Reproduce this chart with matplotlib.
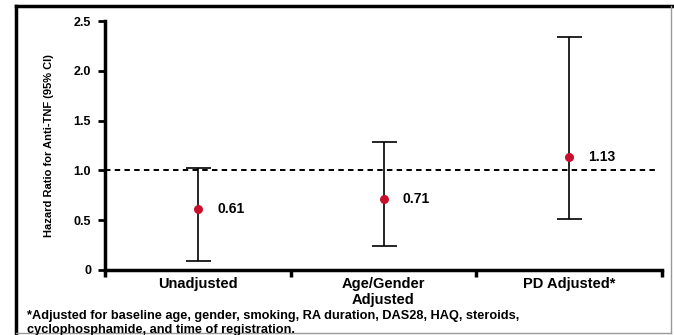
import matplotlib
matplotlib.use("Agg")
import matplotlib.pyplot as plt
from matplotlib.lines import Line2D

categories = ["Unadjusted", "Age/Gender\nAdjusted", "PD Adjusted*"]
hr = [0.61, 0.71, 1.13]
ci_low = [0.09, 0.24, 0.51]
ci_high = [1.02, 1.29, 2.34]
value_labels = ["0.61", "0.71", "1.13"]
yticks = [0, 0.5, 1.0, 1.5, 2.0, 2.5]
ytick_labels = ["0", "0.5", "1.0", "1.5", "2.0", "2.5"]
footnote = ("*Adjusted for baseline age, gender, smoking, RA duration, DAS28, HAQ, steroids,\n"
            "cyclophosphamide, and time of registration.")

plt.rcParams['font.family'] = ['Liberation Sans', 'DejaVu Sans']

W, H = 674, 335
fig = plt.figure(figsize=(W / 100, H / 100), dpi=100)
ax = fig.add_axes([105 / W, 1 - 270 / H, (662 - 105) / W, (270 - 21) / H])

x = list(range(len(categories)))
yerr = [[h - l for h, l in zip(hr, ci_low)], [u - h for h, u in zip(hr, ci_high)]]
ax.errorbar(x, hr, yerr=yerr, fmt='none', ecolor='black', elinewidth=1.2,
            capsize=9, capthick=1.2, zorder=2)
ax.plot(x, hr, 'o', color='#c8102e', markersize=6.5, zorder=3, markeredgewidth=0)
for xi, yi, lab in zip(x, hr, value_labels):
    ax.annotate(lab, (xi, yi), xytext=(14, 0), textcoords='offset points',
                va='center', ha='left', fontsize=10, fontweight='bold')

ax.axhline(1.0, color='black', linestyle=(0, (2.8, 2.2)), linewidth=1.4, xmax=0.993, zorder=1)

ax.set_xlim(-0.5, len(categories) - 0.5)
ax.set_ylim(0, 2.5)
ax.set_yticks(yticks)
ax.set_yticklabels(ytick_labels, fontsize=9, fontweight='bold')
ax.set_xticks([-0.5, 0.5, 1.5, 2.5])
ax.set_xticklabels([])
ax.set_xticks(x, minor=True)
ax.set_xticklabels(categories, minor=True, fontsize=10.5, fontweight='bold', linespacing=1.15)
ax.tick_params(axis='x', which='minor', length=0, pad=5)
ax.tick_params(axis='x', which='major', length=5, width=2.5, direction='out')
ax.tick_params(axis='y', length=5, width=2, pad=5)

for s in ['top', 'right']:
    ax.spines[s].set_visible(False)
ax.spines['left'].set_linewidth(2.5)
ax.spines['bottom'].set_linewidth(2.5)

ax.set_ylabel("Hazard Ratio for Anti-TNF (95% CI)", fontsize=8, fontweight='bold',
              family=['Liberation Sans Narrow', 'Liberation Sans'], labelpad=14)

fig.text(27 / W, 1 - 310 / H, footnote, fontsize=9.2, fontweight='bold', va='top', ha='left',
         linespacing=1.2)

# outer frame
fig.add_artist(Line2D([16 / W, 672 / W], [1 - 6 / H, 1 - 6 / H], color='black', lw=2.5))
fig.add_artist(Line2D([16 / W, 16 / W], [1 - 6 / H, 1 - 333 / H], color='black', lw=2.5))
fig.add_artist(Line2D([671 / W, 671 / W], [1 - 6 / H, 1 - 333 / H], color='#999999', lw=1))
fig.add_artist(Line2D([16 / W, 671 / W], [1 - 333 / H, 1 - 333 / H], color='#999999', lw=1))

fig.savefig("out.png", dpi=100)
